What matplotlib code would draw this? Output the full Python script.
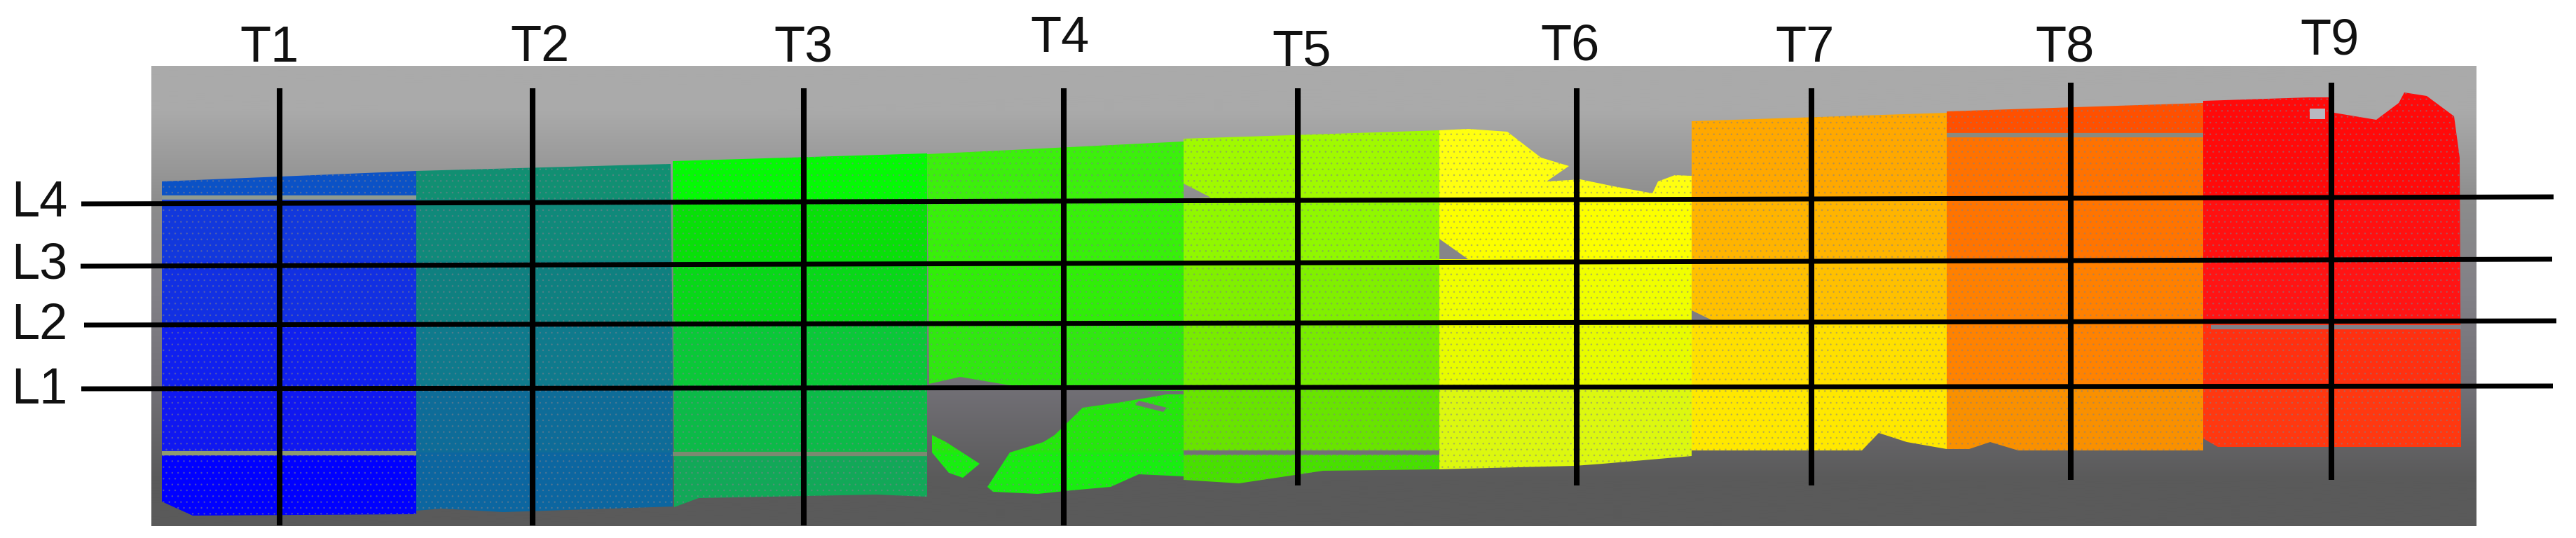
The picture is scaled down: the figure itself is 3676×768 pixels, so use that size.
import numpy as np
import matplotlib
matplotlib.use("Agg")
import matplotlib.pyplot as plt
from matplotlib.colors import to_rgb
from matplotlib.patches import Polygon

plt.rcParams['font.family'] = ['Liberation Sans', 'DejaVu Sans']
plt.rcParams['hatch.linewidth'] = 0.6

# everything is read in image pixels (x right, y down)
panel = [216, 3534, 94, 751]
# evenly spaced from the top of the panel to the bottom
bg_colors = ['#aaaaaa', '#8c8c8c', '#828086', '#727076', '#5a5a5a']

band_y = [127, 193, 284, 372, 460, 553, 646, 744]

strip_names = ['T1', 'T2', 'T3', 'T4', 'T5', 'T6', 'T7', 'T8', 'T9']
strip_edges = [231, 594, 960, 1323, 1689, 2054, 2414, 2778, 3144, 3512]

band_colors = [
    ['#0b52c6', '#0b52c6', '#1238dc', '#1230e2', '#1020ee', '#1018f0', '#0000ff'],
    ['#118f72', '#118f72', '#10897a', '#0f8080', '#0f7a8c', '#0e6c98', '#0c66a0'],
    ['#04fa04', '#04fa04', '#08e008', '#08d818', '#0ac838', '#0cba48', '#12a858'],
    ['#3cf00c', '#3cf00c', '#38f00a', '#30ee08', '#30e810', '#24e80c', '#18ee10'],
    ['#a0fa00', '#a0fa00', '#90f800', '#80f000', '#78ec00', '#68e400', '#48e000'],
    ['#ffff10', '#ffff10', '#fcff00', '#f0ff00', '#e8fc00', '#dcf810', '#dcf810'],
    ['#ffa800', '#ffa800', '#ffb400', '#ffc000', '#ffe000', '#ffe800', '#ffe800'],
    ['#ff5000', '#ff7200', '#ff7400', '#ff8000', '#ff8200', '#f99000', '#f99800'],
    ['#ff0a0a', '#ff0a0a', '#ff1010', '#ff1414', '#ff3010', '#ff3810', '#ff3810'],
]

# outlines of the scanned areas, T4 is in three pieces
outlines = [
    [[(231, 259), (594, 244), (594, 734), (275, 736), (231, 716)]],
    [[(594, 244), (957, 234), (962, 723), (718, 731), (630, 726), (594, 729)]],
    [[(960, 230), (1323, 219), (1323, 709), (1250, 706), (997, 711), (962, 724)]],
    [[(1323, 220), (1689, 202), (1689, 558), (1665, 558), (1513, 553), (1441, 550), (1370, 538), (1326, 548)],
     [(1505, 621), (1545, 582), (1601, 574), (1665, 563), (1689, 563), (1689, 680), (1625, 677),
      (1585, 695), (1529, 700), (1481, 705), (1417, 702), (1409, 695), (1441, 646), (1489, 631)],
     [(1330, 621), (1350, 631), (1398, 662), (1374, 682), (1354, 675), (1330, 646)]],
    [[(1689, 198), (2054, 186), (2054, 670), (1888, 672), (1768, 690), (1689, 685),
      (1689, 284), (1728, 282), (1689, 262)]],
    [[(2054, 186), (2095, 184), (2151, 188), (2199, 225), (2239, 237), (2207, 259), (2255, 256),
      (2303, 266), (2358, 276), (2366, 259), (2390, 250), (2414, 251), (2414, 651), (2287, 662),
      (2247, 665), (2127, 668), (2054, 670), (2054, 370), (2095, 370), (2054, 341)]],
    [[(2414, 173), (2778, 161), (2778, 641), (2721, 631), (2681, 618), (2657, 643), (2414, 643),
      (2414, 458), (2445, 458), (2414, 443)]],
    [[(2778, 159), (3144, 147), (3144, 643), (2880, 643), (2840, 631), (2810, 641), (2778, 641)]],
    [[(3144, 144), (3295, 139), (3327, 139), (3331, 161), (3391, 171), (3423, 147), (3431, 132),
      (3463, 137), (3502, 166), (3510, 225), (3512, 638), (3165, 638), (3144, 626)]],
]

# empty spots inside the cloud
hole_points = [[(3296, 155), (3318, 155), (3318, 170), (3296, 170)],
               [(1625, 572), (1665, 582), (1660, 588), (1620, 578)]]
hole_colors = ['#b8b8c0', '#787078']

# thin empty seams between scan rows: x0, x1, y
seam_x0 = [231, 960, 1689, 2778, 3155, 231]
seam_x1 = [594, 1323, 2054, 3144, 3512, 594]
seam_y = [647, 648, 646, 193, 467, 282]
seam_colors = ['#8f9a70', '#7a8a70', '#747078', '#8a8a80', '#828088', '#8f9a90']

t_lines_x = [399, 760, 1147, 1518, 1852, 2250, 2585, 2955, 3327]
t_lines_top = [126, 126, 126, 126, 126, 126, 126, 118, 118]
t_lines_bottom = [750, 750, 750, 750, 693, 693, 693, 685, 685]
t_label_x = [385, 770, 1147, 1512, 1858, 2240, 2576, 2946, 3325]
t_label_y = [88, 87, 87, 74, 93, 86, 88, 88, 77]

l_names = ['L4', 'L3', 'L2', 'L1']
l_x0 = [116, 115, 120, 116]
l_x1 = [3644, 3642, 3648, 3643]
l_y0 = [291, 380, 464, 555]
l_y1 = [281, 370, 458, 551]
l_label_y = [309, 397, 484, 576]

fig = plt.figure(figsize=(36.76, 7.68), dpi=100)
ax = fig.add_axes([0, 0, 1, 1])

bg = np.array([to_rgb(c) for c in bg_colors])[:, None, :]
ax.imshow(bg, extent=[panel[0], panel[1], panel[3], panel[2]], aspect='auto', interpolation='bilinear', zorder=1)

for i, name in enumerate(strip_names):
    rgb = np.array([[to_rgb(c)] for c in band_colors[i]])
    for outline in outlines[i]:
        mesh = ax.pcolormesh(strip_edges[i:i + 2], band_y, rgb, shading='flat', zorder=2)
        clip = Polygon(outline, closed=True, transform=ax.transData)
        mesh.set_clip_path(clip)
        # grey speckle of the point cloud
        ax.add_patch(Polygon(outline, closed=True, fill=False, hatch='..',
                             edgecolor=(0.5, 0.5, 0.55, 0.45), linewidth=0, zorder=3))

for pts, c in zip(hole_points, hole_colors):
    ax.add_patch(Polygon(pts, closed=True, facecolor=c, edgecolor='none', zorder=4))

for x0, x1, y, c in zip(seam_x0, seam_x1, seam_y, seam_colors):
    ax.plot([x0, x1], [y, y], color=c, lw=4.5, solid_capstyle='butt', zorder=4)

for x, top, bottom in zip(t_lines_x, t_lines_top, t_lines_bottom):
    ax.plot([x, x], [top, bottom], color='black', lw=5.8, solid_capstyle='butt', zorder=5)
for i in range(4):
    ax.plot([l_x0[i], l_x1[i]], [l_y0[i], l_y1[i]], color='black', lw=5, solid_capstyle='butt', zorder=5)

for name, x, y in zip(strip_names, t_label_x, t_label_y):
    ax.text(x, y, name, fontsize=52, ha='center', va='baseline', color='#111111')
for name, y in zip(l_names, l_label_y):
    ax.text(16, y, name, fontsize=52, ha='left', va='baseline', color='#111111')

ax.set_xlim(0, 3676)
ax.set_ylim(768, 0)
ax.axis('off')
fig.savefig('out.png', dpi=100, facecolor='white')
